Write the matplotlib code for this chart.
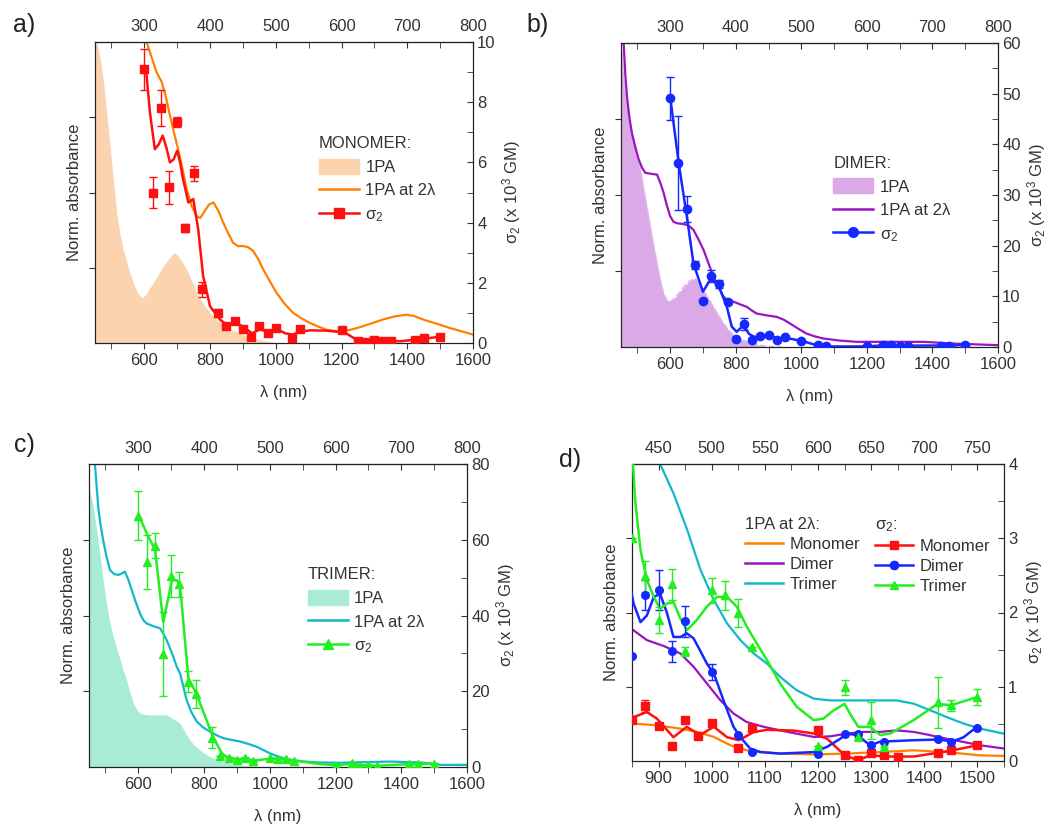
import matplotlib
matplotlib.use("Agg")
import matplotlib.pyplot as plt
from matplotlib.lines import Line2D
from matplotlib.patches import Patch
from matplotlib.ticker import MultipleLocator

plt.rcParams['font.family'] = ['Liberation Sans', 'DejaVu Sans']
plt.rcParams['mathtext.fontset'] = 'custom'
plt.rcParams['mathtext.rm'] = 'Liberation Sans'
plt.rcParams['mathtext.it'] = 'Liberation Sans:italic'
plt.rcParams['font.size'] = 12
plt.rcParams['text.color'] = '#333333'
plt.rcParams['axes.labelcolor'] = '#333333'
plt.rcParams['xtick.color'] = '#333333'
plt.rcParams['ytick.color'] = '#333333'
plt.rcParams['axes.edgecolor'] = '#222222'

# ---- sigma2 data points (10^3 GM) ----
mono_wl = [600, 625, 650, 675, 700, 725, 750, 775, 825, 850, 875, 900, 925, 950, 975, 1000,
           1050, 1075, 1200, 1250, 1275, 1300, 1325, 1350, 1425, 1450, 1500]
mono_s2 = [9.09, 5.0, 7.81, 5.17, 7.33, 3.83, 5.64, 1.78, 1.0, 0.55, 0.74, 0.47, 0.20, 0.55, 0.33, 0.51,
           0.17, 0.45, 0.42, 0.08, 0.02, 0.11, 0.08, 0.05, 0.11, 0.15, 0.21]
mono_err = [0.67, 0.5, 0.61, 0.55, 0.17, 0.14, 0.25, 0.25, 0.12, 0, 0.08, 0, 0, 0, 0, 0,
            0, 0, 0, 0, 0, 0, 0, 0, 0, 0, 0]

dimer_wl = [600, 625, 650, 675, 700, 725, 750, 775, 800, 825, 850, 875, 900, 925, 950, 1000,
            1050, 1075, 1200, 1250, 1275, 1300, 1325, 1425, 1450, 1500]
dimer_s2 = [49.1, 36.3, 27.2, 16.2, 9.1, 14.0, 12.4, 8.8, 1.6, 4.5, 1.42, 2.24, 2.30, 1.48, 1.88, 1.20,
            0.35, 0.12, 0.10, 0.37, 0.37, 0.21, 0.26, 0.29, 0.26, 0.45]
dimer_err = [4.2, 9.2, 2.6, 0.8, 0, 1.2, 0.8, 0, 0, 1.2, 0, 0.2, 0.27, 0.14, 0.21, 0.11,
             0, 0, 0, 0, 0, 0, 0, 0, 0, 0]

trimer_wl = [600, 625, 650, 675, 700, 725, 750, 775, 825, 850, 875, 900, 925, 950, 1000, 1025,
             1050, 1075, 1200, 1250, 1275, 1300, 1325, 1425, 1450, 1500]
trimer_s2 = [66.4, 54.2, 58.4, 29.8, 50.4, 48.3, 22.5, 19.3, 7.7, 3.0, 2.49, 1.90, 2.38, 1.48, 2.30, 2.23,
             1.99, 1.54, 0.20, 0.99, 0.32, 0.55, 0.19, 0.79, 0.75, 0.86]
trimer_err = [6.4, 7.1, 3.3, 11.1, 5.5, 3.3, 2.8, 3.8, 2.8, 0, 0.21, 0.17, 0.21, 0.06, 0.17, 0.2,
              0.19, 0, 0, 0.1, 0, 0.25, 0, 0.34, 0.07, 0.11]

# ---- sigma2 guide lines ----
mono_fit_wl = [605, 617, 632, 644, 656, 667, 678, 689, 700, 709, 718, 734, 749, 764, 779, 800, 830, 853,
               878, 897, 928, 953, 978, 1004, 1029, 1051, 1079, 1104, 1154, 1192, 1217, 1250, 1275,
               1300, 1324, 1380, 1425, 1450, 1499]
mono_fit_s2 = [9.11, 7.67, 6.44, 6.6, 6.89, 6.5, 6.0, 6.1, 6.39, 6.0, 5.44, 4.67, 4.78, 3.78, 2.22,
               1.22, 0.78, 0.59, 0.66, 0.57, 0.32, 0.46, 0.35, 0.46, 0.32, 0.28, 0.39, 0.42, 0.41,
               0.37, 0.30, 0.08, 0.01, 0.08, 0.06, 0.06, 0.11, 0.14, 0.21]

dimer_fit_wl = [600, 626, 651, 671, 700, 724, 749, 773, 788, 803, 824, 840, 853, 866, 878, 891, 903, 916,
                928, 941, 953, 966, 978, 991, 1004, 1022, 1041, 1054, 1072, 1091, 1129, 1192, 1217, 1242,
                1254, 1273, 1286, 1298, 1317, 1380, 1430, 1452, 1474, 1499]
dimer_fit_s2 = [49.4, 36.3, 25.7, 16.5, 10.9, 13.5, 11.9, 7.9, 4.0, 3.0, 4.3, 2.6, 2.12, 1.87, 1.96, 2.21,
                2.25, 1.99, 1.67, 1.67, 1.72, 1.65, 1.49, 1.31, 1.18, 0.82, 0.46, 0.32, 0.17, 0.12, 0.10,
                0.12, 0.19, 0.30, 0.37, 0.35, 0.28, 0.21, 0.26, 0.28, 0.29, 0.26, 0.32, 0.46]

trimer_fit_wl = [602, 625, 651, 676, 702, 717, 727, 752, 778, 825, 851, 856, 866, 878, 891, 903, 916, 928,
                 941, 953, 972, 991, 1010, 1029, 1047, 1066, 1085, 1104, 1129, 1160, 1192, 1210, 1229,
                 1250, 1264, 1276, 1298, 1317, 1336, 1380, 1425, 1450, 1499]
trimer_fit_s2 = [66.4, 61.8, 57.3, 38.2, 49.3, 49.3, 48.0, 23.6, 19.1, 8.4, 4.1, 3.51, 2.84, 2.44, 2.21,
                 2.05, 2.12, 2.14, 1.92, 1.76, 1.90, 2.08, 2.21, 2.21, 2.08, 1.81, 1.58, 1.36, 1.04, 0.73,
                 0.55, 0.57, 0.68, 0.77, 0.59, 0.46, 0.46, 0.35, 0.37, 0.55, 0.77, 0.75, 0.86]

# ---- 1PA spectra, panels a-c (normalised) ----
mono_1pa_wl = [450, 455, 460, 468, 475, 485, 496, 506, 516, 526, 536, 551, 567, 580, 592, 605, 615, 627,
               643, 658, 675, 685, 693, 702, 715, 729, 745, 759, 780, 800, 820, 840, 865, 891, 915,
               941, 965, 992, 1022]
mono_1pa = [1.0, 1.0, 0.978, 0.93, 0.878, 0.77, 0.656, 0.54, 0.433, 0.36, 0.311, 0.25, 0.200, 0.165,
            0.150, 0.16, 0.18, 0.200, 0.228, 0.256, 0.28, 0.295, 0.300, 0.29, 0.27, 0.244, 0.205, 0.167,
            0.13, 0.100, 0.078, 0.061, 0.045, 0.033, 0.022, 0.013, 0.007, 0.003, 0.0]
mono_2l_wl = [598, 607, 622, 637, 653, 665, 678, 690, 703, 716, 729, 744, 759, 770, 784, 797, 810, 825,
              840, 855, 870, 885, 901, 916, 931, 946, 962, 982, 1002, 1027, 1053, 1078, 1103, 1128,
              1154, 1180, 1205, 1235, 1266, 1296, 1326, 1360, 1397, 1420, 1448, 1490, 1529, 1565, 1600]
mono_2l = [1.04, 1.0, 0.95, 0.90, 0.867, 0.82, 0.756, 0.70, 0.644, 0.58, 0.511, 0.455, 0.422, 0.415,
           0.439, 0.46, 0.467, 0.44, 0.40, 0.365, 0.333, 0.322, 0.322, 0.318, 0.306, 0.28, 0.244,
           0.205, 0.167, 0.13, 0.10, 0.082, 0.067, 0.055, 0.044, 0.04, 0.039, 0.046, 0.056, 0.067,
           0.078, 0.088, 0.094, 0.09, 0.078, 0.064, 0.05, 0.039, 0.028]

dimer_1pa_wl = [450, 454, 458, 465, 473, 481, 489, 499, 509, 521, 534, 547, 560, 570, 580, 590, 600, 613,
                626, 639, 651, 664, 676, 689, 702, 717, 732, 748, 763, 778, 793, 813, 834, 865, 895, 940]
dimer_1pa = [1.0, 0.95, 0.881, 0.815, 0.760, 0.71, 0.672, 0.63, 0.584, 0.51, 0.430, 0.35, 0.275, 0.22,
             0.176, 0.155, 0.149, 0.16, 0.176, 0.195, 0.209, 0.22, 0.226, 0.21, 0.187, 0.16, 0.132,
             0.103, 0.077, 0.056, 0.039, 0.027, 0.017, 0.008, 0.002, 0.0]
dimer_2l_wl = [452, 458, 463, 468, 475, 483, 493, 504, 514, 524, 540, 560, 570, 580, 590, 600, 610, 621,
               636, 651, 661, 671, 686, 702, 717, 732, 748, 763, 778, 793, 814, 834, 849, 864, 895,
               925, 946, 966, 991, 1016, 1041, 1067, 1118, 1169, 1270, 1372, 1473, 1600]
dimer_2l = [1.05, 1.0, 0.90, 0.826, 0.76, 0.705, 0.66, 0.617, 0.59, 0.573, 0.57, 0.567, 0.54, 0.507,
            0.465, 0.430, 0.412, 0.407, 0.405, 0.402, 0.395, 0.385, 0.355, 0.319, 0.275, 0.231, 0.195,
            0.165, 0.152, 0.149, 0.14, 0.132, 0.12, 0.110, 0.104, 0.099, 0.09, 0.077, 0.06, 0.044,
            0.035, 0.028, 0.021, 0.017, 0.017, 0.017, 0.011, 0.006]

trimer_1pa_wl = [450, 456, 463, 470, 478, 485, 493, 503, 514, 526, 539, 551, 564, 575, 585, 595, 605, 620,
                 636, 660, 686, 705, 727, 742, 757, 772, 788, 803, 818, 838, 859, 885, 910, 950, 991]
trimer_1pa = [0.925, 0.895, 0.859, 0.805, 0.749, 0.685, 0.617, 0.54, 0.474, 0.42, 0.375, 0.33, 0.287,
              0.245, 0.210, 0.19, 0.177, 0.173, 0.172, 0.172, 0.172, 0.16, 0.144, 0.115, 0.089, 0.07,
              0.056, 0.044, 0.034, 0.025, 0.018, 0.012, 0.007, 0.003, 0.0]
trimer_2l_wl = [462, 468, 473, 478, 485, 493, 503, 514, 526, 539, 549, 559, 569, 580, 592, 605, 615, 625,
                645, 666, 676, 686, 701, 717, 727, 737, 747, 762, 778, 798, 818, 838, 859, 885, 910, 935,
                960, 980, 1001, 1021, 1042, 1072, 1103, 1150, 1214, 1290, 1366, 1420, 1468, 1519, 1600]
trimer_2l = [1.05, 1.0, 0.93, 0.859, 0.80, 0.749, 0.695, 0.650, 0.637, 0.634, 0.638, 0.645, 0.62,
             0.584, 0.545, 0.507, 0.485, 0.474, 0.465, 0.458, 0.44, 0.419, 0.38, 0.331, 0.309, 0.265,
             0.221, 0.18, 0.150, 0.13, 0.117, 0.105, 0.095, 0.089, 0.084, 0.076, 0.067, 0.056, 0.045,
             0.036, 0.029, 0.022, 0.018, 0.015, 0.014, 0.016, 0.018, 0.016, 0.014, 0.007, 0.007]

# ---- 1PA at 2 lambda, panel d ----
d_mono_wl = [850, 853, 897, 941, 972, 1004, 1035, 1066, 1098, 1129, 1192, 1254, 1317, 1380, 1442, 1505, 1550]
d_mono = [0.126, 0.126, 0.120, 0.109, 0.098, 0.081, 0.053, 0.036, 0.030, 0.025, 0.022, 0.025, 0.030, 0.036,
          0.030, 0.019, 0.017]
d_dimer_wl = [850, 853, 878, 910, 941, 966, 991, 1016, 1041, 1066, 1098, 1129, 1160, 1192, 1223, 1254,
              1286, 1317, 1348, 1380, 1411, 1442, 1474, 1505, 1550]
d_dimer = [0.443, 0.440, 0.407, 0.387, 0.362, 0.317, 0.261, 0.205, 0.160, 0.131, 0.115, 0.103, 0.092,
           0.081, 0.083, 0.092, 0.098, 0.098, 0.103, 0.098, 0.087, 0.075, 0.064, 0.053, 0.042]
d_trimer_wl = [890, 903, 928, 954, 979, 1004, 1029, 1054, 1079, 1104, 1129, 1160, 1192, 1223, 1254, 1286,
               1317, 1348, 1380, 1411, 1442, 1474, 1505, 1550]
d_trimer = [1.05, 1.0, 0.901, 0.778, 0.643, 0.542, 0.463, 0.407, 0.362, 0.328, 0.283, 0.238, 0.210, 0.204,
            0.204, 0.204, 0.204, 0.204, 0.193, 0.171, 0.148, 0.126, 0.109, 0.092]

ORANGE = '#FF8000'
RED = '#FF1010'
PURPLE = '#9A14C0'
BLUE = '#1428FF'
CYAN = '#12B8CA'
GREEN = '#22EE22'

W, H = 1048, 824
fig = plt.figure(figsize=(W / 100, H / 100), dpi=100)


def rect(x0, y0, x1, y1):
    return [x0 / W, 1 - y1 / H, (x1 - x0) / W, (y1 - y0) / H]


def make_panel(r, xlim, xmaj, xmin, tmaj, tmin, s2max, s2maj, s2min):
    ax = fig.add_axes(r)
    ax.set_xlim(xlim)
    ax.set_ylim(0, 1)
    ax.set_yticks([0.25, 0.5, 0.75])
    ax.set_yticklabels([])
    ax.xaxis.set_major_locator(MultipleLocator(xmaj))
    ax.xaxis.set_minor_locator(MultipleLocator(xmin))
    ax.tick_params(axis='both', which='major', direction='out', length=4, labelsize=12, top=False)
    ax.tick_params(axis='x', which='minor', direction='out', length=4, top=False)
    ax.set_xlabel('λ (nm)', fontsize=12, labelpad=12)
    ax.set_ylabel('Norm. absorbance', fontsize=12, labelpad=2)

    top = ax.secondary_xaxis('top', functions=(lambda x: x / 2, lambda x: x * 2))
    top.xaxis.set_major_locator(MultipleLocator(tmaj))
    top.xaxis.set_minor_locator(MultipleLocator(tmin))
    top.tick_params(axis='x', which='both', direction='in', length=4, labelsize=12, pad=6)

    ax2 = ax.twinx()
    ax2.set_ylim(0, s2max)
    ax2.yaxis.set_major_locator(MultipleLocator(s2maj))
    ax2.yaxis.set_minor_locator(MultipleLocator(s2min))
    ax2.tick_params(axis='y', which='both', direction='in', length=4, labelsize=12, pad=3)
    ax2.set_ylabel('σ$_2$ (x 10$^3$ GM)', fontsize=12, labelpad=3)
    return ax, ax2


def sigma_points(ax2, wl, s2, err, color, marker, ms):
    ax2.errorbar(wl, s2, yerr=err, fmt=marker, color=color, ms=ms, capsize=3,
                 elinewidth=1, capthick=1, zorder=4)


def legend_one(ax2, title, fill_color, line_color, s2_color, marker, anchor):
    handles = [Patch(facecolor=fill_color, edgecolor=fill_color),
               Line2D([], [], color=line_color, lw=1.8),
               Line2D([], [], color=s2_color, lw=1.8, marker=marker, ms=7)]
    labels = ['1PA', '1PA at 2λ', 'σ$_2$']
    leg = ax2.legend(handles, labels, title=title, loc='upper left', bbox_to_anchor=anchor,
                     frameon=False, fontsize=12, title_fontsize=12, handlelength=2.4,
                     handleheight=1.0, handletextpad=0.4, labelspacing=0.45, borderpad=0,
                     alignment='left')
    return leg


# ---- panel a: monomer ----
ax, ax2 = make_panel(rect(95, 42, 473, 343), (450, 1600), 200, 100, 100, 50, 10, 2, 1)
ax.fill_between(mono_1pa_wl, mono_1pa, color='#FBD3AE', lw=0)
ax.plot(mono_2l_wl, mono_2l, color=ORANGE, lw=1.6)
ax2.plot(mono_fit_wl, mono_fit_s2, color=RED, lw=1.8, zorder=3)
sigma_points(ax2, mono_wl, mono_s2, mono_err, RED, 's', 6)
legend_one(ax2, 'MONOMER:', '#FBD3AE', ORANGE, RED, 's', (0.57, 0.715))

# ---- panel b: dimer ----
ax, ax2 = make_panel(rect(621, 43, 998, 347), (450, 1600), 200, 100, 100, 50, 60, 10, 5)
ax.fill_between(dimer_1pa_wl, dimer_1pa, color='#DBA8E8', lw=0)
ax.plot(dimer_1pa_wl, dimer_1pa, color='#E2B8EC', lw=1.2, ls='--')
ax.plot(dimer_2l_wl, dimer_2l, color=PURPLE, lw=1.6)
ax2.plot(dimer_fit_wl, dimer_fit_s2, color=BLUE, lw=1.8, zorder=3)
sigma_points(ax2, dimer_wl, dimer_s2, dimer_err, BLUE, 'o', 6)
legend_one(ax2, 'DIMER:', '#DBA8E8', PURPLE, BLUE, 'o', (0.541, 0.656))

# ---- panel c: trimer ----
ax, ax2 = make_panel(rect(89, 464, 467, 767), (450, 1600), 200, 100, 100, 50, 80, 20, 10)
ax.fill_between(trimer_1pa_wl, trimer_1pa, color='#A8EBD6', lw=0)
ax.plot(trimer_2l_wl, trimer_2l, color=CYAN, lw=1.6)
ax2.plot(trimer_fit_wl, trimer_fit_s2, color=GREEN, lw=1.8, zorder=3)
sigma_points(ax2, trimer_wl, trimer_s2, trimer_err, GREEN, '^', 6)
legend_one(ax2, 'TRIMER:', '#A8EBD6', CYAN, GREEN, '^', (0.556, 0.687))

# ---- panel d: zoom on the NIR range ----
ax, ax2 = make_panel(rect(632, 464, 1004, 761), (850, 1550), 100, 50, 50, 25, 4, 1, 0.5)
ax.plot(d_mono_wl, d_mono, color=ORANGE, lw=1.6)
ax.plot(d_dimer_wl, d_dimer, color=PURPLE, lw=1.6)
ax.plot(d_trimer_wl, d_trimer, color=CYAN, lw=1.6)
ax2.plot(mono_fit_wl, mono_fit_s2, color=RED, lw=1.8, zorder=3)
ax2.plot(dimer_fit_wl, dimer_fit_s2, color=BLUE, lw=1.8, zorder=3)
ax2.plot(trimer_fit_wl, trimer_fit_s2, color=GREEN, lw=1.8, zorder=3)
sigma_points(ax2, mono_wl, mono_s2, mono_err, RED, 's', 5.5)
sigma_points(ax2, dimer_wl, dimer_s2, dimer_err, BLUE, 'o', 5.5)
sigma_points(ax2, trimer_wl, trimer_s2, trimer_err, GREEN, '^', 5.5)

names = ['Monomer', 'Dimer', 'Trimer']
h1 = [Line2D([], [], color=c, lw=1.8) for c in (ORANGE, PURPLE, CYAN)]
h2 = [Line2D([], [], color=c, lw=1.8, marker=m, ms=6) for c, m in ((RED, 's'), (BLUE, 'o'), (GREEN, '^'))]
kw = dict(loc='upper left', frameon=False, fontsize=12, title_fontsize=12, handlelength=2.3,
          handletextpad=0.4, labelspacing=0.3, borderpad=0, alignment='left')
leg1 = ax2.legend(h1, names, title='1PA at 2λ:', bbox_to_anchor=(0.281, 0.85), **kw)
ax2.add_artist(leg1)
ax2.legend(h2, names, title='σ$_2$:', bbox_to_anchor=(0.631, 0.85), **kw)

# ---- panel letters ----
for txt, x, y in (('a)', 24, 25), ('b)', 538, 25), ('c)', 24, 445), ('d)', 570, 460)):
    fig.text(x / W, 1 - y / H, txt, fontsize=18, ha='center', va='center', color='#222222')

fig.savefig('out.png', dpi=100)
